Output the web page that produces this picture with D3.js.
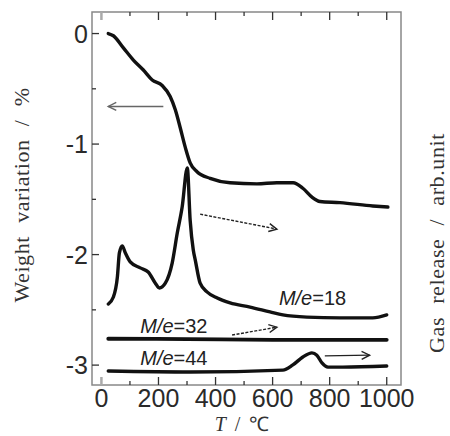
<!DOCTYPE html>
<html>
  <head>
    <meta charset="utf-8">
    <script src="https://cdn.jsdelivr.net/npm/d3@7/dist/d3.min.js"></script>
    <style>
      body { margin: 0; background: #fff; }
      .curve { fill: none; stroke: #111; stroke-width: 3.4px; stroke-linejoin: round; stroke-linecap: round; }
      .tick-label { font-family: "Liberation Sans", Arial, sans-serif; font-size: 25px; fill: #2a2a2a; }
      .axis-title { font-family: "Liberation Serif", "Times New Roman", serif; font-size: 22px; fill: #333; }
      .mass-label { font-family: "Liberation Sans", Arial, sans-serif; font-size: 20px; fill: #222; }
      .arrow { fill: none; stroke-width: 1.4px; }
    </style>
  </head>
  <body>
    <script>
      // temperature (°C) and weight variation (%)
      const tgT = [24, 42, 77, 112, 147, 178, 213, 241, 259, 276, 294, 311, 335, 381, 451, 545, 615, 672, 706, 738, 766, 836, 951, 1004];
      const tgW = [0, -0.02, -0.13, -0.24, -0.33, -0.42, -0.47, -0.57, -0.69, -0.85, -1.03, -1.17, -1.25, -1.31, -1.35, -1.36, -1.35, -1.35, -1.40, -1.48, -1.52, -1.53, -1.56, -1.57];

      // gas release, arbitrary units
      const m18T = [24, 42, 56, 63, 73, 84, 101, 136, 164, 189, 203, 224, 248, 266, 283, 301, 311, 322, 329, 346, 371, 406, 451, 521, 591, 636, 720, 836, 951, 1000];
      const m18V = [21.7, 23.6, 29.0, 35.4, 37.3, 35.4, 33.0, 31.4, 30.3, 27.3, 26.0, 27.3, 32.7, 40.8, 47.7, 58.2, 44.2, 36.2, 33.5, 27.3, 24.9, 23.3, 22.0, 20.9, 19.6, 18.8, 18.2, 18.0, 18.0, 18.8];

      const m32T = [24, 300, 600, 1000];
      const m32V = [12.4, 12.3, 12.1, 12.1];

      const m44T = [24, 311, 636, 671, 706, 738, 755, 773, 794, 846, 1000];
      const m44V = [3.75, 3.5, 4.0, 5.4, 7.5, 8.6, 8.0, 5.9, 4.8, 4.8, 5.1];

      const xMajor = [0, 200, 400, 600, 800, 1000];
      const xMinor = [100, 300, 500, 700, 900];
      const yMajor = [0, -1, -2, -3];
      const yMinor = [-0.5, -1.5, -2.5];
      const yLabels = ['0', '-1', '-2', '-3'];

      const massLabels = [
        {name: 'M/e', rest: '=18', T: 622, v: 21.4},
        {name: 'M/e', rest: '=32', T: 136, v: 13.9},
        {name: 'M/e', rest: '=44', T: 136, v: 5.4}
      ];

      const width = 450;
      const height = 436;
      const margin = {top: 12, left: 92};
      const plotW = 309;
      const plotH = 373;

      const x = d3.scaleLinear().domain([-33, 1050]).range([0, plotW]);
      const yW = d3.scaleLinear().domain([-3.18, 0.195]).range([plotH, 0]);
      const yG = d3.scaleLinear().domain([0, 100]).range([plotH, 0]);

      const svg = d3.select('body')
        .append('svg')
        .attr('width', width)
        .attr('height', height);

      const defs = svg.append('defs');
      const addHead = (id, color) => defs.append('marker')
        .attr('id', id)
        .attr('viewBox', '-10 -6 12 12')
        .attr('markerWidth', 12)
        .attr('markerHeight', 12)
        .attr('markerUnits', 'userSpaceOnUse')
        .attr('orient', 'auto')
        .append('path')
        .attr('d', 'M-8,-4 L0,0 L-8,4')
        .attr('fill', 'none')
        .attr('stroke', color)
        .attr('stroke-width', 1.4);
      addHead('head-grey', '#666');
      addHead('head-dark', '#222');

      const g = svg.append('g')
        .attr('transform', `translate(${margin.left},${margin.top})`);

      // frame
      g.append('rect')
        .attr('width', plotW)
        .attr('height', plotH)
        .attr('fill', 'none')
        .attr('stroke', '#888')
        .attr('stroke-width', 1.5);

      // x ticks, bottom and top, pointing in
      const xTicks = xMajor.map(v => ({v, len: 8})).concat(xMinor.map(v => ({v, len: 4})));
      g.selectAll('.xt-b').data(xTicks).enter().append('line')
        .attr('x1', d => x(d.v)).attr('x2', d => x(d.v))
        .attr('y1', plotH).attr('y2', d => plotH - d.len)
        .attr('stroke', d => d.v === 0 ? '#aaa' : '#333')
        .attr('stroke-width', d => d.v === 0 ? 2.5 : 1.3);
      g.selectAll('.xt-t').data(xTicks).enter().append('line')
        .attr('x1', d => x(d.v)).attr('x2', d => x(d.v))
        .attr('y1', 0).attr('y2', d => d.len)
        .attr('stroke', d => d.v === 0 ? '#aaa' : '#333')
        .attr('stroke-width', d => d.v === 0 ? 2.5 : 1.3);

      g.selectAll('.xl').data(xMajor).enter().append('text')
        .attr('class', 'tick-label')
        .attr('x', d => x(d))
        .attr('y', plotH + 22)
        .attr('text-anchor', 'middle')
        .text(d => d);

      // y ticks, left only
      const yTicks = yMajor.map(v => ({v, len: 7})).concat(yMinor.map(v => ({v, len: 4})));
      g.selectAll('.yt').data(yTicks).enter().append('line')
        .attr('x1', 0).attr('x2', d => d.len)
        .attr('y1', d => yW(d.v)).attr('y2', d => yW(d.v))
        .attr('stroke', '#333')
        .attr('stroke-width', 1.3);

      g.selectAll('.yl').data(yMajor).enter().append('text')
        .attr('class', 'tick-label')
        .attr('x', -4)
        .attr('y', d => yW(d))
        .attr('dy', '0.36em')
        .attr('text-anchor', 'end')
        .text((d, i) => yLabels[i]);

      // curves
      const lineW = d3.line().x(d => x(d[0])).y(d => yW(d[1])).curve(d3.curveMonotoneX);
      const lineG = d3.line().x(d => x(d[0])).y(d => yG(d[1])).curve(d3.curveMonotoneX);

      g.append('path').attr('class', 'curve').attr('d', lineW(d3.zip(tgT, tgW)));
      g.append('path').attr('class', 'curve').attr('d', lineG(d3.zip(m18T, m18V)));
      g.append('path').attr('class', 'curve').style('stroke-width', '3.8px').attr('d', lineG(d3.zip(m32T, m32V)));
      g.append('path').attr('class', 'curve').attr('d', lineG(d3.zip(m44T, m44V)));

      // arrows
      const arrows = [
        {x1: x(217), y1: yW(-0.66), x2: x(24), y2: yW(-0.66), c: '#666', head: 'head-grey', dash: null},
        {x1: x(346), y1: yG(45.8), x2: x(615), y2: yG(41.8), c: '#222', head: 'head-dark', dash: '3 1.5'},
        {x1: x(458), y1: yG(13.4), x2: x(615), y2: yG(15.5), c: '#222', head: 'head-dark', dash: '3 1.5'},
        {x1: x(783), y1: yG(7.8), x2: x(940), y2: yG(8.0), c: '#222', head: 'head-dark', dash: null}
      ];
      g.selectAll('.arrow').data(arrows).enter().append('line')
        .attr('class', 'arrow')
        .attr('x1', d => d.x1).attr('y1', d => d.y1)
        .attr('x2', d => d.x2).attr('y2', d => d.y2)
        .attr('stroke', d => d.c)
        .attr('stroke-dasharray', d => d.dash)
        .attr('marker-end', d => `url(#${d.head})`);

      // M/e labels
      const ml = g.selectAll('.mass-label').data(massLabels).enter().append('text')
        .attr('class', 'mass-label')
        .attr('x', d => x(d.T))
        .attr('y', d => yG(d.v));
      ml.append('tspan').attr('font-style', 'italic').text(d => d.name);
      ml.append('tspan').text(d => d.rest);

      // axis titles
      svg.append('text')
        .attr('class', 'axis-title')
        .attr('transform', 'translate(29,195) rotate(-90)')
        .attr('text-anchor', 'middle')
        .style('word-spacing', '7px')
        .style('letter-spacing', '0.6px')
        .text('Weight variation / %');

      svg.append('text')
        .attr('class', 'axis-title')
        .attr('transform', 'translate(444,243) rotate(-90)')
        .attr('text-anchor', 'middle')
        .style('word-spacing', '7px')
        .style('letter-spacing', '0.6px')
        .text('Gas release / arb.unit');

      const xt = svg.append('text')
        .attr('class', 'axis-title')
        .attr('x', 242)
        .attr('y', 431)
        .attr('text-anchor', 'middle')
        .style('font-size', '20px')
        .style('word-spacing', '4px');
      xt.append('tspan').attr('font-style', 'italic').text('T');
      xt.append('tspan').text(' / ℃');
    </script>
  </body>
</html>
